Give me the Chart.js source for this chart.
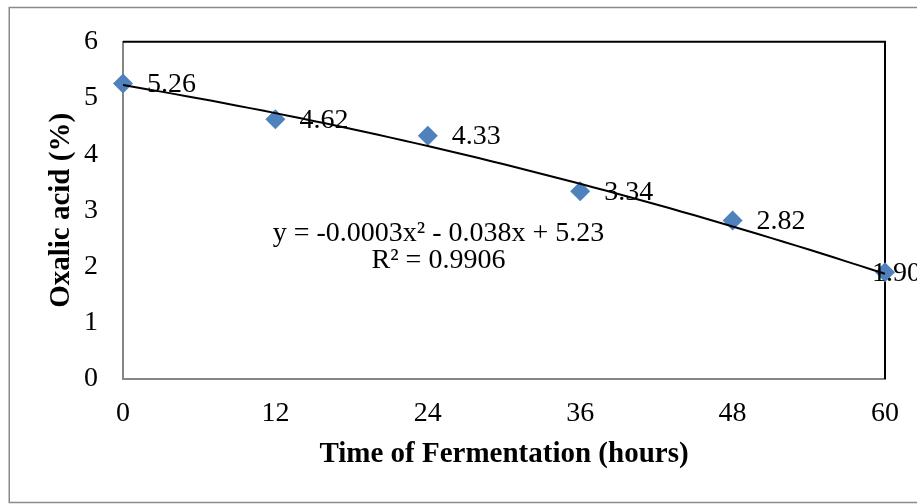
<!DOCTYPE html>
<html>
<head>
<meta charset="utf-8">
<title>Oxalic acid vs fermentation time</title>
<script src="https://cdn.jsdelivr.net/npm/chart.js@4.4.1/dist/chart.umd.min.js"></script>
<style>
  html, body { margin: 0; padding: 0; background: #fff; }
  #wrap { width: 917px; height: 504px; }
</style>
</head>
<body>
<div id="wrap"><canvas id="chart" width="917" height="504"></canvas></div>
<script>
// Values
const hours = [0, 12, 24, 36, 48, 60];
const oxalicAcid = [5.26, 4.62, 4.33, 3.34, 2.82, 1.90];
const xTicks = [0, 12, 24, 36, 48, 60];
const yTicks = [0, 1, 2, 3, 4, 5, 6];

// Polynomial trendline as printed on the chart: c0 + c1*x + c2*x^2
const trendCoef = [5.23, -0.038, -0.0003];
const equationLines = ['y = -0.0003x² - 0.038x + 5.23', 'R² = 0.9906'];

const serif = "'Liberation Serif', 'Times New Roman', serif";

const markerPoints = hours.map((h, i) => ({ x: h, y: oxalicAcid[i] }));
const trendPoints = [];
for (let h = hours[0]; h <= hours[hours.length - 1]; h += 1) {
  trendPoints.push({ x: h, y: trendCoef[0] + trendCoef[1] * h + trendCoef[2] * h * h });
}

// White background, outer gray frame, black top/right plot edges
const framePlugin = {
  id: 'frame',
  beforeDraw(chart) {
    const ctx = chart.ctx;
    ctx.save();
    ctx.fillStyle = '#fff';
    ctx.fillRect(0, 0, chart.width, chart.height);
    ctx.strokeStyle = '#8a8a8a';
    ctx.lineWidth = 1.5;
    ctx.strokeRect(9.25, 7.5, chart.width + 20, chart.height - 1.5 - 7.5);
    ctx.restore();
  },
  beforeDatasetsDraw(chart) {
    const { ctx, chartArea: a } = chart;
    ctx.save();
    ctx.strokeStyle = '#000';
    ctx.lineWidth = 2;
    ctx.beginPath();
    ctx.moveTo(a.left, a.top);
    ctx.lineTo(a.right, a.top);
    ctx.lineTo(a.right, a.bottom);
    ctx.stroke();
    ctx.restore();
  }
};

// Value labels beside markers and the trendline equation
const labelPlugin = {
  id: 'labels',
  afterDatasetsDraw(chart) {
    const { ctx, chartArea: a } = chart;
    const meta = chart.getDatasetMeta(1);
    ctx.save();
    ctx.font = '28px ' + serif;
    ctx.fillStyle = '#000';
    ctx.textBaseline = 'middle';
    ctx.textAlign = 'left';
    meta.data.forEach((pt, i) => {
      const txt = oxalicAcid[i].toFixed(2);
      const w = ctx.measureText(txt).width;
      let x = pt.x + 24;
      const limit = a.right + 36;
      if (x + w > limit) x = limit - w;
      ctx.fillText(txt, x, pt.y + 1);
    });
    ctx.textAlign = 'center';
    const cx = a.left + (a.right - a.left) * 0.414;
    ctx.fillText(equationLines[0], cx, 234);
    ctx.fillText(equationLines[1], cx, 261);
    ctx.restore();
  }
};

new Chart(document.getElementById('chart'), {
  type: 'scatter',
  data: {
    datasets: [
      {
        label: 'Trend',
        data: trendPoints,
        showLine: true,
        borderColor: '#000',
        borderWidth: 2,
        pointRadius: 0,
        tension: 0,
        order: 0
      },
      {
        label: 'Oxalic acid',
        data: markerPoints,
        pointStyle: 'rectRot',
        pointRadius: 10,
        pointBackgroundColor: '#4F81BD',
        pointBorderColor: '#4F81BD',
        pointBorderWidth: 0,
        clip: false,
        order: 1
      }
    ]
  },
  options: {
    responsive: false,
    animation: false,
    layout: { padding: { top: 37, right: 32, left: 0, bottom: 0 } },
    plugins: {
      legend: { display: false },
      tooltip: { enabled: false }
    },
    scales: {
      x: {
        type: 'linear',
        min: xTicks[0],
        max: xTicks[xTicks.length - 1],
        afterBuildTicks: (s) => { s.ticks = xTicks.map(v => ({ value: v })); },
        afterFit: (s) => { s.height = 125; },
        grid: { display: false, drawTicks: false },
        border: { display: true, color: '#868686', width: 2 },
        ticks: { color: '#000', padding: 18, font: { family: serif, size: 28 } },
        title: {
          display: true,
          text: 'Time of Fermentation (hours)',
          color: '#000',
          font: { family: serif, size: 29, weight: 'bold' },
          padding: { top: 0, bottom: 32 }
        }
      },
      y: {
        min: yTicks[0],
        max: yTicks[yTicks.length - 1],
        afterBuildTicks: (s) => { s.ticks = yTicks.map(v => ({ value: v })); },
        afterFit: (s) => { s.width = 123; },
        grid: { display: false, drawTicks: false },
        border: { display: true, color: '#868686', width: 2 },
        ticks: { color: '#000', padding: 25, font: { family: serif, size: 28 } },
        title: {
          display: true,
          text: 'Oxalic acid (%)',
          color: '#000',
          font: { family: serif, size: 29, weight: 'bold' },
          padding: { top: 44, bottom: 0 }
        }
      }
    }
  },
  plugins: [framePlugin, labelPlugin]
});
</script>
</body>
</html>
